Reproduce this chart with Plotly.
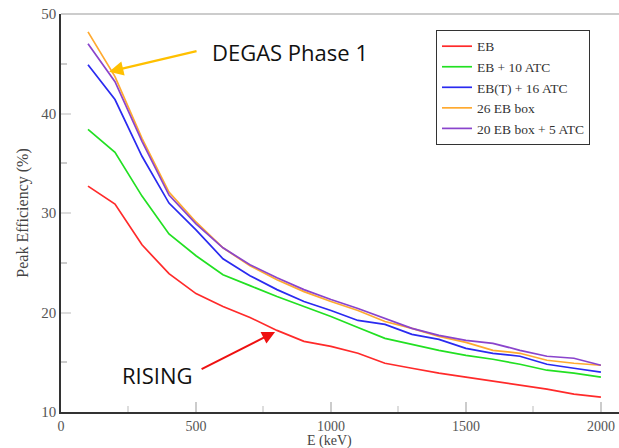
import plotly.graph_objects as go

energy = [100, 200, 300, 400, 500, 600, 700, 800, 900, 1000,
          1100, 1200, 1300, 1400, 1500, 1600, 1700, 1800, 1900, 2000]

eb = [32.7, 30.9, 26.8, 23.9, 21.9, 20.6, 19.5, 18.2, 17.1, 16.6,
      15.9, 14.9, 14.4, 13.9, 13.5, 13.1, 12.7, 12.3, 11.8, 11.5]
eb_atc10 = [38.4, 36.1, 31.7, 27.9, 25.7, 23.8, 22.7, 21.6, 20.6, 19.6,
            18.5, 17.4, 16.8, 16.2, 15.7, 15.3, 14.8, 14.2, 13.9, 13.5]
ebt_atc16 = [44.9, 41.4, 35.7, 31.0, 28.3, 25.4, 23.7, 22.3, 21.1, 20.2,
             19.2, 18.8, 17.8, 17.3, 16.4, 15.9, 15.6, 14.8, 14.4, 14.0]
eb_box26 = [48.2, 43.7, 37.5, 32.1, 29.1, 26.5, 24.7, 23.3, 22.1, 21.1,
            20.2, 19.1, 18.4, 17.6, 17.0, 16.2, 15.9, 15.2, 14.9, 14.7]
eb_box20_atc5 = [47.0, 43.2, 37.2, 31.8, 28.9, 26.5, 24.8, 23.5, 22.3, 21.3,
                 20.4, 19.4, 18.4, 17.7, 17.2, 16.9, 16.2, 15.6, 15.4, 14.7]

series_names = ["EB", "EB + 10 ATC", "EB(T) + 16 ATC", "26 EB box", "20 EB box + 5 ATC"]
series_values = [eb, eb_atc10, ebt_atc16, eb_box26, eb_box20_atc5]
series_colors = ["#ff2a2a", "#22e022", "#2a2af0", "#ffaa30", "#8a44cc"]

x_ticks = [0, 500, 1000, 1500, 2000]
y_ticks = [10, 20, 30, 40, 50]
x_title = "E (keV)"
y_title = "Peak Efficiency (%)"

fig = go.Figure()
for name, vals, col in zip(series_names, series_values, series_colors):
    fig.add_trace(go.Scatter(x=energy, y=vals, mode="lines", name=name,
                             line=dict(color=col, width=1.7)))

serif = "Liberation Serif, Times New Roman, serif"

fig.update_layout(
    width=619, height=448,
    margin=dict(l=61, r=0, t=14, b=36),
    paper_bgcolor="white", plot_bgcolor="white",
    font=dict(family=serif, size=14, color="#444"),
    showlegend=True,
    legend=dict(x=0.672, y=0.96, xanchor="left", yanchor="top",
                bgcolor="white", bordercolor="#333", borderwidth=1,
                font=dict(family=serif, size=13.5, color="#333"),
                tracegroupgap=0, itemwidth=30),
    xaxis=dict(range=[0, 2067], tickvals=x_ticks, ticktext=[str(v) for v in x_ticks],
               automargin=False,
               showgrid=False, zeroline=False, showline=True, linecolor="#333", linewidth=1.5,
               ticks="inside", ticklen=10, tickcolor="#ccc", tickwidth=1.5,
               minor=dict(tickvals=[250, 750, 1250, 1750], ticks="inside", ticklen=6,
                          tickcolor="#ddd"),
               tickfont=dict(family=serif, size=14, color="#555")),
    yaxis=dict(range=[10, 50], tickvals=y_ticks, ticktext=[str(v) for v in y_ticks],
               automargin=False,
               showgrid=False, zeroline=False, showline=True, linecolor="#333", linewidth=1.5,
               ticks="inside", ticklen=10, tickcolor="#ddd", tickwidth=1.5,
               minor=dict(tickvals=[15, 25, 35, 45], ticks="inside", ticklen=6,
                          tickcolor="#ccc"),
               title=dict(text=y_title, font=dict(family=serif, size=16, color="#444"),
                          standoff=9),
               tickfont=dict(family=serif, size=15, color="#555")),
)

# x-axis title placed just below the tick labels
fig.add_annotation(x=0.482, y=-0.0725, xref="paper", yref="paper", xanchor="center",
                   yanchor="middle", text=x_title, showarrow=False,
                   font=dict(family=serif, size=14, color="#444"))

# light top frame line
fig.add_shape(type="line", xref="paper", yref="paper", x0=0, x1=1, y0=1, y1=1,
              line=dict(color="#bbb", width=1.5))

sans = "Open Sans, Liberation Sans, sans-serif"
fig.add_annotation(x=178, y=44.2, xref="x", yref="y", ax=89, ay=-21,
                   text="", showarrow=True, arrowhead=2, arrowsize=1.3, arrowwidth=2.2,
                   arrowcolor="#ffc000")
fig.add_annotation(x=0.267, y=0.905, xref="paper", yref="paper", xanchor="left", yanchor="middle",
                   text="DEGAS Phase 1", showarrow=False,
                   font=dict(family=sans, size=22, color="#111"))
fig.add_annotation(x=793, y=18.05, xref="x", yref="y", ax=-75, ay=38,
                   text="", showarrow=True, arrowhead=2, arrowsize=1.3, arrowwidth=2,
                   arrowcolor="#ee1111")
fig.add_annotation(x=0.106, y=0.093, xref="paper", yref="paper", xanchor="left", yanchor="middle",
                   text="RISING", showarrow=False,
                   font=dict(family=sans, size=22, color="#111"))

fig.write_html("out.html", config={"displayModeBar": False},
               post_script="document.body.style.margin='0';document.body.style.overflow='hidden';")
